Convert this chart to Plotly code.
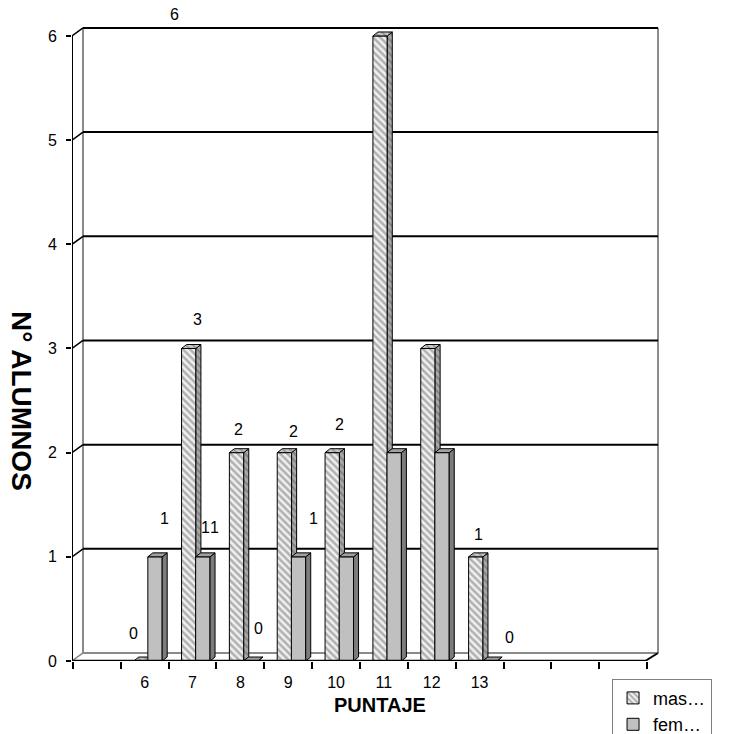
import plotly.graph_objects as go

# ---------------- data ----------------
categories = ["", "6", "7", "8", "9", "10", "11", "12", "13", "", "", ""]
masculino = [None, 0, 3, 2, 2, 2, 6, 3, 1, None, None, None]
femenino = [None, 1, 1, 0, 1, 1, 2, 2, 0, None, None, None]
series_names = ["mas…", "fem…"]
y_ticks = [0, 1, 2, 3, 4, 5, 6]
x_title = "PUNTAJE"
y_title = "N° ALUMNOS"

# data-label placement quirks (pixel shifts from each bar top; None = label hidden)
masc_label_shift = [None, (-7, 28), (9, 29), (1.5, 23), (9, 21), (7, 28), (-206, 21), None, (3, 22), None, None, None]
fem_label_shift = [None, (9.5, 38), (2.5, 29), (8, 33), (14.5, 38), (-132, 29), None, None, (20, 24), None, None, None]

# ---------------- geometry (styles) ----------------
FONT = "Arial, Liberation Sans, sans-serif"
BAR_W = 0.30
MASC_OFF = -0.08
FEM_OFF = 0.215
DXB, DYB = 0.105, 0.038      # bar depth offset
DXW, DYW = 0.23, 0.077       # wall depth offset
X_RANGE = [-0.52, 11.75]
Y_RANGE = [0, 6.297]
X_LEFT = X_RANGE[0]
X_FRONT_RIGHT = len(categories) - 0.5 - 0.04

n = len(categories)
idx = list(range(n))


def bar_positions(vals, off):
    xs, vs = [], []
    for i, v in zip(idx, vals):
        if v is not None:
            xs.append(i + off)
            vs.append(v)
    return xs, vs


def faces(xs, vs):
    sx, sy, tx, ty = [], [], [], []
    for x, v in zip(xs, vs):
        xl, xr = x - BAR_W / 2, x + BAR_W / 2
        sx += [xr, xr + DXB, xr + DXB, xr, xr, None]
        sy += [0, DYB, v + DYB, v, 0, None]
        tx += [xl, xl + DXB, xr + DXB, xr, xl, None]
        ty += [v, v + DYB, v + DYB, v, v, None]
    return sx, sy, tx, ty


fig = go.Figure()

specs = [
    (masculino, MASC_OFF, series_names[0], "x", "y",
     dict(color="white", line=dict(color="black", width=1),
          pattern=dict(shape="\\", fgcolor="#707070", bgcolor="#f0f0f0", size=5, solidity=0.5)),
     dict(fillcolor="#9a9a9a", fillpattern=dict(shape="\\", fgcolor="#5a5a5a", bgcolor="#a8a8a8", size=5, solidity=0.4)),
     dict(fillcolor="#b8b8b8", fillpattern=dict(shape="\\", fgcolor="#6a6a6a", bgcolor="#c8c8c8", size=5, solidity=0.4))),
    (femenino, FEM_OFF, series_names[1], "x2", "y2",
     dict(color="#c0c0c0", line=dict(color="black", width=1)),
     dict(fillcolor="#7c7c7c"),
     dict(fillcolor="#a0a0a0")),
]

for vals, off, name, xa, ya, mk, side_style, top_style in specs:
    xs, vs = bar_positions(vals, off)
    fig.add_trace(go.Bar(x=xs, y=vs, width=BAR_W, name=name, marker=mk,
                         xaxis=xa, yaxis=ya, hoverinfo="skip"))
    sx, sy, tx, ty = faces(xs, vs)
    fig.add_trace(go.Scatter(x=sx, y=sy, mode="lines", fill="toself",
                             line=dict(color="black", width=1), showlegend=False,
                             xaxis=xa, yaxis=ya, hoverinfo="skip", **side_style))
    fig.add_trace(go.Scatter(x=tx, y=ty, mode="lines", fill="toself",
                             line=dict(color="black", width=1), showlegend=False,
                             xaxis=xa, yaxis=ya, hoverinfo="skip", **top_style))

# ---------------- frame (walls, floor, gridlines) ----------------
shapes = []
xb_left = X_LEFT + DXW
xb_right = X_RANGE[1] - 0.02
shapes.append(dict(type="line", x0=xb_left, x1=xb_left, y0=DYW, y1=y_ticks[-1] + DYW,
                   line=dict(color="#8a8a8a", width=2), layer="below"))
shapes.append(dict(type="line", x0=xb_right, x1=xb_right, y0=DYW, y1=y_ticks[-1] + DYW,
                   line=dict(color="#8a8a8a", width=2), layer="below"))
for t in y_ticks:
    if t > 0:
        shapes.append(dict(type="line", x0=xb_left, x1=xb_right, y0=t + DYW, y1=t + DYW,
                           line=dict(color="black", width=2), layer="below"))
        shapes.append(dict(type="line", x0=X_LEFT, x1=xb_left, y0=t, y1=t + DYW,
                           line=dict(color="black", width=1.5), layer="below"))
shapes.append(dict(type="line", x0=xb_left, x1=xb_right, y0=DYW, y1=DYW,
                   line=dict(color="#8a8a8a", width=2), layer="below"))
shapes.append(dict(type="line", x0=X_LEFT, x1=xb_left, y0=0, y1=DYW,
                   line=dict(color="#8a8a8a", width=1.5), layer="below"))
shapes.append(dict(type="line", x0=X_FRONT_RIGHT, x1=xb_right, y0=0, y1=DYW,
                   line=dict(color="black", width=2), layer="above"))
shapes.append(dict(type="line", x0=X_LEFT, x1=X_FRONT_RIGHT, y0=0, y1=0,
                   line=dict(color="black", width=2.5), layer="above"))
shapes.append(dict(type="line", x0=X_LEFT, x1=X_LEFT, y0=0, y1=y_ticks[-1],
                   line=dict(color="black", width=2), layer="above"))

# ---------------- data labels ----------------
annotations = []
for vals, off, shifts in [(masculino, MASC_OFF, masc_label_shift), (femenino, FEM_OFF, fem_label_shift)]:
    for i, v, s in zip(idx, vals, shifts):
        if v is None or s is None:
            continue
        annotations.append(dict(x=i + off, y=v, xref="x", yref="y", text=str(v),
                                showarrow=False, xshift=s[0], yshift=s[1],
                                font=dict(family=FONT, size=16, color="black")))

annotations.append(dict(x=0.525, y=-0.067, xref="paper", yref="paper", text="<b>" + x_title + "</b>",
                        xanchor="center", yanchor="middle",
                        showarrow=False, font=dict(family=FONT, size=20, color="black")))
annotations.append(dict(x=-0.085, y=0.396, xref="paper", yref="paper", text="<b>" + y_title + "</b>",
                        xanchor="center", yanchor="middle",
                        textangle=90, showarrow=False, font=dict(family=FONT, size=28, color="black")))

fig.update_layout(
    width=731, height=734,
    margin=dict(l=72, r=72, t=5, b=73, autoexpand=False),
    plot_bgcolor="white", paper_bgcolor="white",
    barmode="overlay",
    showlegend=True,
    legend=dict(x=0.92, y=-0.027, xanchor="left", yanchor="top",
                bordercolor="#808080", borderwidth=1, bgcolor="white",
                font=dict(family=FONT, size=18, color="black"),
                tracegroupgap=0, itemwidth=30),
    xaxis=dict(range=X_RANGE, tickvals=idx, ticktext=categories, ticks="outside",
               ticklen=7, tickcolor="rgba(0,0,0,0)", showgrid=False, zeroline=False,
               showline=False, tickfont=dict(family=FONT, size=16, color="black"),
               ticklabelstandoff=0),
    xaxis2=dict(range=X_RANGE, overlaying="x", anchor="y2", side="bottom",
                tickvals=[i - 0.5 for i in range(n + 1)], ticks="outside", ticklen=7,
                tickwidth=1.5, tickcolor="black", showticklabels=False,
                showgrid=False, zeroline=False, showline=False),
    yaxis=dict(range=Y_RANGE, tickvals=y_ticks, ticks="outside", ticklen=5, tickwidth=1.5,
               tickcolor="black", showgrid=False, zeroline=False, showline=False,
               tickfont=dict(family=FONT, size=16, color="black"), ticklabelstandoff=6),
    yaxis2=dict(range=Y_RANGE, overlaying="y", visible=False),
    shapes=shapes,
    annotations=annotations,
)

fig.write_html("out.html", config={"displayModeBar": False},
               post_script="document.body.style.margin='0px';document.body.style.padding='0px';")
